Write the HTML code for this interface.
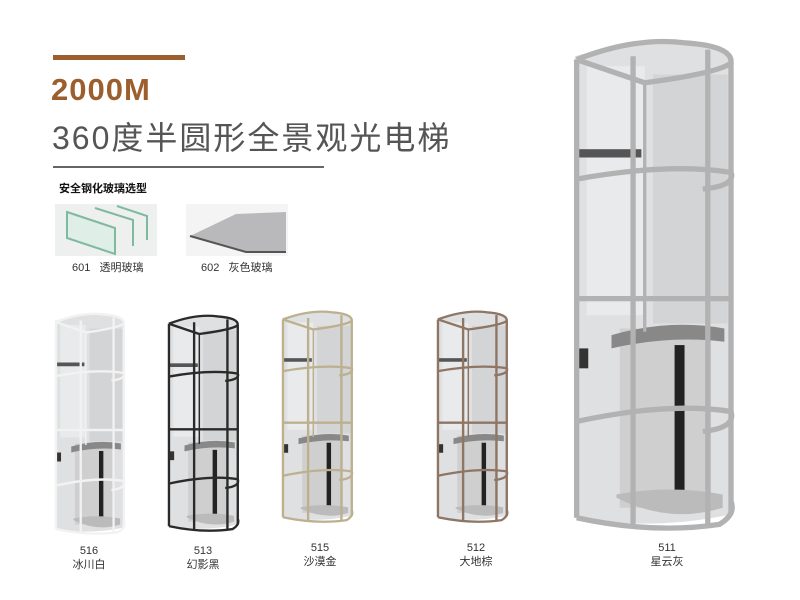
<!DOCTYPE html>
<html><head><meta charset="utf-8"><style>
body{margin:0;background:#fff;width:800px;height:600px;overflow:hidden;position:relative;font-family:"Liberation Sans","Noto Sans CJK SC",sans-serif}
.t{position:absolute;white-space:nowrap}
.lab{position:absolute;text-align:center;width:80px;font-size:11px;color:#333;line-height:14px}
</style></head><body>
<div style="position:absolute;left:53px;top:55px;width:132px;height:5px;background:#9b5e2c"></div>
<div class="t" style="left:51px;top:72px;font-size:31px;font-weight:bold;color:#9b5e2c;letter-spacing:1px">2000M</div>
<div class="t" style="left:52px;top:113px;font-size:32px;color:#555;letter-spacing:2px">360度半圆形全景观光电梯</div>
<div style="position:absolute;left:53px;top:166px;width:271px;height:2px;background:#666"></div>
<div class="t" style="left:59px;top:180px;font-size:11px;font-weight:bold;color:#111">安全钢化玻璃选型</div>
<svg style="position:absolute;left:55px;top:204px" width="102" height="52">
<rect width="102" height="52" fill="#eef0ef"/>
<g fill="none" stroke="#7fb9a0" stroke-width="2"><path d="M12 8 L60 24 L60 50 L12 34 Z" fill="#dfeee7"/><path d="M40 4 L78 16 L78 42"/><path d="M62 2 L92 12 L92 36"/></g></svg>
<svg style="position:absolute;left:186px;top:204px" width="102" height="52">
<rect width="102" height="52" fill="#f4f4f4"/><path d="M4 32 L50 10 L100 8 L100 48 L60 48 Z" fill="#b9b9bb"/><path d="M4 32 L60 48 L100 48" stroke="#555" stroke-width="2" fill="none"/></svg>
<div class="t" style="left:72px;top:259px;font-size:11px;color:#333">601 &nbsp; 透明玻璃</div>
<div class="t" style="left:201px;top:259px;font-size:11px;color:#333">602 &nbsp; 灰色玻璃</div>

<svg width="0" height="0" style="position:absolute">
<symbol id="el" viewBox="0 0 100 300" preserveAspectRatio="none">
<path d="M3 14 L3 292 Q50 300 97 290 L97 14 Q60 -2 3 14Z" fill="#d9dbdd" opacity="0.85"/>
<rect x="10" y="20" width="35" height="150" fill="#e8eaeb"/>
<rect x="50" y="25" width="45" height="150" fill="#c9cbcd" opacity=".6"/>
<rect x="30" y="178" width="55" height="108" fill="#cfcfcf"/>
<path d="M25 182 Q60 172 93 178 L93 186 Q60 182 25 190Z" fill="#888"/>
<rect x="63" y="188" width="6" height="92" fill="#222"/>
<path d="M28 280 Q60 296 92 286 L92 278 Q60 272 28 278Z" fill="#bbb"/>
<rect x="3" y="70" width="40" height="5" fill="#555"/>
<rect x="3" y="190" width="8" height="12" fill="#333"/>
<g fill="none" stroke="currentColor" stroke-width="3.2">
<line x1="4" y1="16" x2="4" y2="292"/>
<line x1="38" y1="14" x2="38" y2="298"/>
<line x1="83" y1="10" x2="83" y2="296"/>
<line x1="97" y1="18" x2="97" y2="290"/>
<line x1="45" y1="30" x2="45" y2="180" stroke-width="2"/>
<path d="M4 16 Q40 2 70 6 Q98 8 97 18 Q90 24 45 30 L4 16"/>
<path d="M4 88 Q60 78 97 84 Q100 92 80 94"/>
<path d="M4 160 L97 160"/>
<path d="M4 234 Q60 222 97 228 Q100 238 80 240"/>
<path d="M4 292 Q50 302 90 296 Q100 290 97 282"/>
</g>
</symbol></svg>

<svg style="position:absolute;left:53px;top:310px;color:#f2f2f2" width="73" height="225"><use href="#el" width="73" height="225"/></svg>
<svg style="position:absolute;left:166px;top:312px;color:#2a2a2a" width="74" height="220"><use href="#el" width="74" height="220"/></svg>
<svg style="position:absolute;left:280px;top:308px;color:#bdb08f" width="74" height="215"><use href="#el" width="74" height="215"/></svg>
<svg style="position:absolute;left:435px;top:308px;color:#8e7564" width="74" height="215"><use href="#el" width="74" height="215"/></svg>
<svg style="position:absolute;left:570px;top:33px;color:#b2b2b2" width="166" height="498"><use href="#el" width="166" height="498"/></svg>

<div class="lab" style="left:49px;top:544px">516<br>冰川白</div>
<div class="lab" style="left:163px;top:544px">513<br>幻影黑</div>
<div class="lab" style="left:280px;top:541px">515<br>沙漠金</div>
<div class="lab" style="left:436px;top:541px">512<br>大地棕</div>
<div class="lab" style="left:627px;top:541px">511<br>星云灰</div>
</body></html>
